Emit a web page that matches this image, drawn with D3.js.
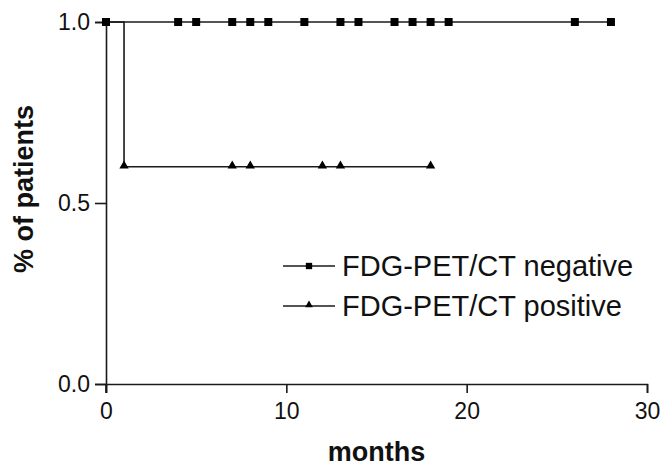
<!DOCTYPE html>
<html>
<head>
<meta charset="utf-8">
<script src="https://cdn.jsdelivr.net/npm/d3@7"></script>
<style>
  html, body { margin: 0; padding: 0; background: #fff; }
  svg { display: block; }
  text { font-family: "Liberation Sans", Arial, sans-serif; fill: #111; }
</style>
</head>
<body>
<svg id="chart" width="662" height="467"></svg>
<script>
// Kaplan–Meier style step data (months, proportion of patients)
const negSteps = [[0, 1.0], [28, 1.0]];
const negCensored = [0, 4, 5, 7, 8, 9, 11, 13, 14, 16, 17, 18, 19, 26, 28];
const negLevel = 1.0;

const posSteps = [[0, 1.0], [1, 1.0], [1, 0.6], [18, 0.6]];
const posCensored = [1, 7, 8, 12, 13, 18];
const posLevel = 0.6;

const xTicks = [0, 10, 20, 30];
const yTicks = [0.0, 0.5, 1.0];
const legendLabels = ["FDG-PET/CT negative", "FDG-PET/CT positive"];

const svg = d3.select("#chart");

const x = d3.scaleLinear().domain([0, 30]).range([106, 647]);
const y = d3.scaleLinear().domain([0, 1]).range([384, 22]);

const ink = "#1a1a1a";

// axes
const xAxis = d3.axisBottom(x).tickValues(xTicks).tickFormat(d3.format("d")).tickSizeOuter(0).tickSize(9).tickPadding(10);
const yAxis = d3.axisLeft(y).tickValues(yTicks).tickFormat(d3.format(".1f")).tickSizeOuter(0).tickSize(11).tickPadding(5);

const gx = svg.append("g").attr("transform", `translate(0,${y(0)})`).call(xAxis);
const gy = svg.append("g").attr("transform", `translate(${x(0)},0)`).call(yAxis);
[gx, gy].forEach(g => {
  g.select(".domain").attr("stroke", ink).attr("stroke-width", 1.6);
  g.selectAll(".tick line").attr("stroke", ink).attr("stroke-width", 1.6);
  g.selectAll(".tick text").style("font-family", "'Liberation Sans', Arial, sans-serif").style("font-size", "23px").attr("fill", "#111");
});
// y axis extends below the x axis like the tick at 0
gy.append("line").attr("x1", 0).attr("x2", 0).attr("y1", y(0)).attr("y2", y(0) + 9).attr("stroke", ink).attr("stroke-width", 1.6);

// step lines
const line = d3.line().x(d => x(d[0])).y(d => y(d[1]));
svg.append("path").datum(negSteps).attr("d", line).attr("fill", "none").attr("stroke", ink).attr("stroke-width", 1.6);
svg.append("path").datum(posSteps).attr("d", line).attr("fill", "none").attr("stroke", ink).attr("stroke-width", 1.6);

// censor markers
const sq = d3.symbol().type(d3.symbolSquare).size(64);
const tri = d3.symbol().type(d3.symbolTriangle).size(38);
svg.selectAll(".neg").data(negCensored).join("path")
  .attr("d", sq).attr("fill", "#000")
  .attr("transform", d => `translate(${x(d)},${y(negLevel)})`);
svg.selectAll(".pos").data(posCensored).join("path")
  .attr("d", tri).attr("fill", "#000")
  .attr("transform", d => `translate(${x(d)},${y(posLevel) - 1})`);

// axis titles
svg.append("text").attr("x", (x(0) + x(30)) / 2).attr("y", 461)
  .attr("text-anchor", "middle").style("font-size", "27px").style("font-weight", "bold").text("months");
svg.append("text").attr("transform", `translate(33,189) rotate(-90)`)
  .attr("text-anchor", "middle").style("font-size", "27px").style("font-weight", "bold").text("% of patients");

// legend
const legend = svg.append("g");
const rows = [{ sym: d3.symbol().type(d3.symbolSquare).size(40), yy: 266 }, { sym: d3.symbol().type(d3.symbolTriangle).size(26), yy: 306 }];
rows.forEach((r, i) => {
  legend.append("line").attr("x1", 283).attr("x2", 335).attr("y1", r.yy).attr("y2", r.yy).attr("stroke", ink).attr("stroke-width", 1.6);
  legend.append("path").attr("d", r.sym).attr("fill", "#000").attr("transform", `translate(309,${r.yy - (i ? 1 : 0)})`);
  legend.append("text").attr("x", 342).attr("y", r.yy + 10).style("font-size", "29px").text(legendLabels[i]);
});
</script>
</body>
</html>
